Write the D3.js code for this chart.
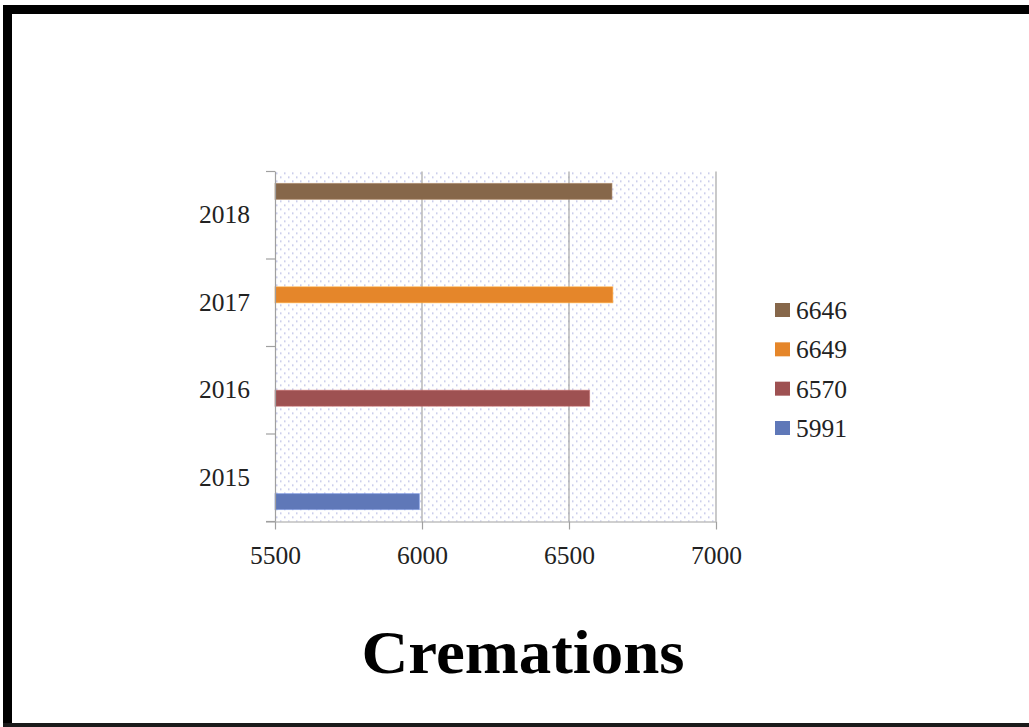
<!DOCTYPE html>
<html>
<head>
<meta charset="utf-8">
<script src="https://cdn.jsdelivr.net/npm/d3@7"></script>
<style>
  html, body { margin: 0; padding: 0; background: #fff; }
  svg { display: block; }
</style>
</head>
<body>
<svg id="chart" width="1029" height="727"></svg>
<script>
const categories = ["2015", "2016", "2017", "2018"];
const seriesNames = ["5991", "6570", "6649", "6646"];
const seriesValues = [5991, 6570, 6649, 6646]; // series i has its value in categories[i]
const seriesColors = ["#5f78b8", "#9e5152", "#e5862a", "#86674a"];
const xTicks = [5500, 6000, 6500, 7000];
const titleText = "Cremations";

const svg = d3.select("#chart");
const W = 1029, H = 727;
const plot = { left: 275, right: 716, top: 171.5, bottom: 521.5 };
const serif = "'Liberation Serif', 'DejaVu Serif', serif";
const labelSize = 25.5;

// frame
svg.append("rect").attr("x", 0).attr("y", 0).attr("width", W).attr("height", H).attr("fill", "#fff");
svg.append("rect").attr("x", 3).attr("y", 5).attr("width", W - 3).attr("height", 9).attr("fill", "#000");
svg.append("rect").attr("x", 3).attr("y", 5).attr("width", 9).attr("height", H - 5).attr("fill", "#000");
svg.append("rect").attr("x", 3).attr("y", 723).attr("width", W - 3).attr("height", 4).attr("fill", "#1a1a1a");

// pattern
const defs = svg.append("defs");
const pat = defs.append("pattern").attr("id", "dots").attr("patternUnits", "userSpaceOnUse")
  .attr("width", 8).attr("height", 8).attr("x", plot.left).attr("y", plot.top);
pat.append("rect").attr("width", 8).attr("height", 8).attr("fill", "#fff");
pat.append("rect").attr("x", 1).attr("y", 1).attr("width", 1.5).attr("height", 1.5).attr("fill", "#b9bde4");
pat.append("rect").attr("x", 5).attr("y", 5).attr("width", 1.5).attr("height", 1.5).attr("fill", "#b9bde4");

const x = d3.scaleLinear().domain([5500, 7000]).range([plot.left, plot.right]);
const y = d3.scaleBand().domain(categories.slice().reverse()).range([plot.top, plot.bottom]).padding(0);
const inner = d3.scaleBand().domain(d3.range(seriesNames.length).reverse())
  .range([0, y.bandwidth()]).paddingInner(0).paddingOuter(0.75);

svg.append("rect").attr("x", plot.left).attr("y", plot.top)
  .attr("width", plot.right - plot.left).attr("height", plot.bottom - plot.top)
  .attr("fill", "url(#dots)");

// gridlines
svg.append("g").selectAll("line").data(xTicks.slice(1)).join("line")
  .attr("x1", d => x(d)).attr("x2", d => x(d))
  .attr("y1", plot.top).attr("y2", plot.bottom)
  .attr("stroke", "#a6a6a6").attr("stroke-width", 1.2);

// bars
svg.append("g").selectAll("rect").data(seriesValues.map((v, i) => ({ v, i }))).join("rect")
  .attr("x", x(5500))
  .attr("y", d => y(categories[d.i]) + inner(d.i))
  .attr("width", d => x(d.v) - x(5500))
  .attr("height", inner.bandwidth())
  .attr("fill", d => seriesColors[d.i])
  .attr("stroke", d => d3.color(seriesColors[d.i]).brighter(0.6))
  .attr("stroke-opacity", 0.6)
  .attr("stroke-width", 1);

// x axis
const xAxis = d3.axisBottom(x).tickValues(xTicks).tickSize(8).tickPadding(16).tickFormat(d3.format("d"));
const gx = svg.append("g").attr("transform", `translate(0,${plot.bottom})`).call(xAxis);
gx.select(".domain").attr("d", `M${plot.left - 9},0.5H${plot.right}`).attr("stroke", "#a0a0a0").attr("stroke-width", 1.2);
gx.selectAll(".tick line").attr("stroke", "#a0a0a0").attr("stroke-width", 1.2);
gx.selectAll("text").attr("font-family", serif).attr("font-size", labelSize).attr("fill", "#222");

// y axis
const yAxis = d3.axisLeft(y).tickSize(0).tickPadding(25);
const gy = svg.append("g").attr("transform", `translate(${plot.left},0)`).call(yAxis);
gy.select(".domain").attr("d", `M0.5,${plot.top}V${plot.bottom}`).attr("stroke", "#a0a0a0").attr("stroke-width", 1.2);
gy.selectAll("text").attr("font-family", serif).attr("font-size", labelSize).attr("fill", "#222")
  .attr("dy", "0.32em");
// band boundary ticks
const bounds = categories.map(c => y(c)).concat([plot.bottom]);
gy.append("g").selectAll("line").data(bounds).join("line")
  .attr("x1", -9).attr("x2", 0).attr("y1", d => d).attr("y2", d => d)
  .attr("stroke", "#a0a0a0").attr("stroke-width", 1.2);

// legend (top = last series)
const legendOrder = d3.range(seriesNames.length).reverse();
const lg = svg.append("g");
const legY = d3.scalePoint().domain(legendOrder).range([310, 428]);
legendOrder.forEach(i => {
  lg.append("rect").attr("x", 775).attr("y", legY(i) - 7).attr("width", 15).attr("height", 14)
    .attr("fill", seriesColors[i]);
  lg.append("text").attr("x", 796).attr("y", legY(i)).attr("dy", "0.35em")
    .attr("font-family", serif).attr("font-size", labelSize).attr("fill", "#222").text(seriesNames[i]);
});

// title
svg.append("text").attr("x", 523).attr("y", 673).attr("text-anchor", "middle")
  .attr("font-family", serif).attr("font-weight", "bold").attr("font-size", 61)
  .attr("textLength", 323).attr("lengthAdjust", "spacingAndGlyphs")
  .attr("fill", "#000").text(titleText);
</script>
</body>
</html>
